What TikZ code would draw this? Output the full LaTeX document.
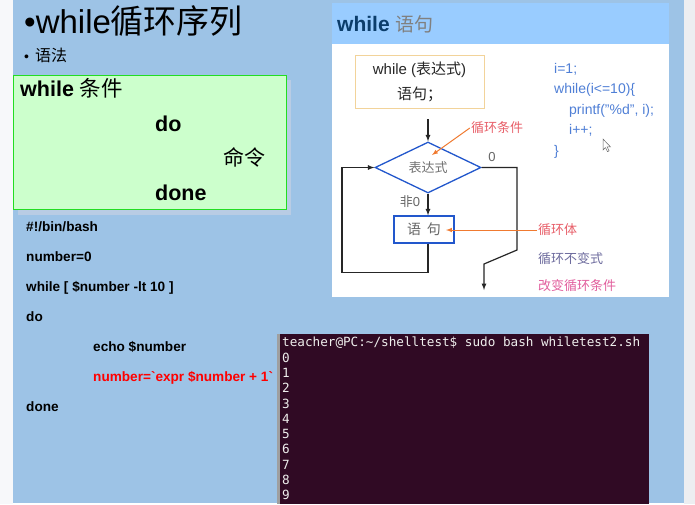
\documentclass[tikz,border=0pt]{standalone}
\usepackage{fontspec}
\setmainfont{Liberation Sans}
\setmonofont{DejaVu Sans Mono}
\newfontfamily\cjk{Noto Sans CJK SC}
\usepackage{xcolor}
\usetikzlibrary{shapes.geometric,arrows.meta,calc}
\tikzset{>=latex}

\definecolor{slideblue}{HTML}{9DC3E6}
\definecolor{pagegray}{HTML}{F7F8FA}
\definecolor{edgegray}{HTML}{EDEEF1}
\definecolor{shadowblue}{HTML}{B9CCE4}
\definecolor{boxgreen}{HTML}{22DD22}
\definecolor{boxfill}{HTML}{CCFFCC}
\definecolor{headblue}{HTML}{99CCFF}
\definecolor{headnavy}{HTML}{0B3D6B}
\definecolor{boxorange}{HTML}{F2D39A}
\definecolor{codeblue}{HTML}{4F7FD6}
\definecolor{flowblue}{HTML}{2257CC}
\definecolor{noteorange}{HTML}{F07A30}
\definecolor{labelred}{HTML}{E8606A}
\definecolor{labelpurple}{HTML}{6E6C9E}
\definecolor{labelpink}{HTML}{E2609E}
\definecolor{termbg}{HTML}{300A24}
\definecolor{termtext}{HTML}{EEEEEC}

\newcommand{\zh}[1]{{\cjk #1}}
\newcommand{\fsz}[1]{\fontsize{#1}{#1}\selectfont}

\tikzset{
	script/.style={anchor=base west, inner sep=0, font=\fsz{13.6}\bfseries},
	code/.style={anchor=base west, inner sep=0, font=\fsz{14}, text=codeblue},
	term/.style={anchor=base west, inner sep=0, font=\ttfamily\fsz{12.65}, text=termtext},
	flowline/.style={draw=black!85, line width=1.2pt},
	flowbox/.style={draw=flowblue, line width=1.3pt, inner sep=0},
	notearrow/.style={draw=noteorange, line width=1pt, ->},
	note/.style={font=\fsz{13}, inner sep=1pt}
}

\begin{document}
\begin{tikzpicture}[x=1pt,y=-1pt]
		\useasboundingbox (0,0) rectangle (695,504);
		% page and slide
		\fill[pagegray] (0,0) rectangle (13,504);
		\fill[slideblue] (13,0) rectangle (684,503);
		\fill[edgegray] (684,0) rectangle (695,504);
		
		% title
		\node[anchor=base west, inner sep=0, font=\fsz{33}] (title) at (24,33) {•while\zh{循环序列}};
		\node[anchor=base west, inner sep=0] (syntax) at (24,61) {\fsz{14}•\hspace{6pt}\fsz{16}\zh{语法}};
		
		% syntax box
		\fill[shadowblue] (18,80) rectangle (291,215);
		\node[draw=boxgreen, fill=boxfill, line width=1pt, minimum width=273pt, minimum height=134pt, anchor=north west, inner sep=0] (syntaxbox) at (13,75) {};
		\node[anchor=base west, inner sep=0, font=\fsz{21.5}] (kwwhile) at (20,96) {\bfseries while \mdseries\zh{条件}};
		\node[anchor=base west, inner sep=0, font=\fsz{21.5}\bfseries] (kwdo) at (155,131) {do};
		\node[anchor=base west, inner sep=0, font=\fsz{21}] (kwcmd) at (223,165) {\zh{命令}};
		\node[anchor=base west, inner sep=0, font=\fsz{21.5}\bfseries] (kwdone) at (155,200) {done};
		
		% script
		\foreach \n/\x/\t in {0/26/{\#!/bin/bash}, 1/26/{number=0}, 2/26/{while [ \$number -lt 10 ]}, 3/26/do, 4/93/{echo \$number}, 6/26/done}
		{
			\node[script] (line\n) at (\x,{231+30*\n}) {\t};
		}
		\node[script, text=red] (line5) at (93,381) {number=\textasciigrave expr \$number + 1\textasciigrave};
		
		% terminal
		\fill[gray!75] (277,334) rectangle (280,504);
		\fill[termbg] (280,334) rectangle (649,504);
		\node[term] (prompt) at (282,346) {teacher@PC:\textasciitilde/shelltest\$ sudo bash whiletest2.sh};
		\foreach \n in {0,...,9}
		{
			\node[term] (out\n) at (282,{362+15.33*\n}) {\n};
		}
		
		% while panel
		\fill[white] (332,3) rectangle (669,297);
		\fill[headblue] (332,3) rectangle (669,44);
		\node[anchor=base west, inner sep=0] (head) at (337,31) {\fsz{21}\bfseries\color{headnavy}while \mdseries\color{gray}\fsz{19}\zh{语句}};
		\node[draw=boxorange, line width=1pt, minimum width=129pt, minimum height=53pt, align=center, font=\fontsize{15}{25}\selectfont, text=black!85] (exprbox) at (419.5,81.5) {while (\zh{表达式})\\\zh{语句；}};
		
		\node[code] (code1) at (554,73) {i=1;};
		\node[code] (code2) at (554,93.5) {while(i<=10)\{};
		\node[code] (code3) at (569,114) {printf("\%d", i);};
		\node[code] (code4) at (569,134.5) {i++;};
		\node[code] (code5) at (554,155) {\}};
		\draw[fill=white, draw=black!60, line width=0.5pt] (603,139) -- ++(0,11) -- ++(2.5,-2.4) -- ++(2,4) -- ++(1.6,-0.8) -- ++(-2,-3.9) -- ++(3.4,0) -- cycle;
		
		% flow chart
		\coordinate (entry) at (428,119);
		\node[diamond, flowbox, minimum width=106pt, minimum height=45pt, font=\fsz{13}, text=black!55] (cond) at (428,167.5) {\zh{表达式}};
		\node[rectangle, flowbox, minimum width=60pt, minimum height=27pt, font=\fsz{14}, text=black!60] (body) at (424,229.5) {\zh{语\hspace{6pt}句}};
		\draw[flowline,->] (entry) -- (cond.north);
		\draw[flowline,->] (cond.south) -- (cond.south |- body.north);
		\draw[flowline,->] (cond.south |- body.south) -- ++(0,29) -| (342,167.5) -- (cond.west);
		\coordinate (bend1) at (517,250);
		\coordinate (bend2) at (484,264);
		\coordinate (exitpt) at (484,290);
		\draw[flowline,->] (cond.east) -| (bend1) -- (bend2) -- (exitpt);
		\node[note, text=black!60] (zero) at (492,157) {0};
		\node[note, text=black!60] (nonzero) at (410,202) {\zh{非}0};
		
		% notes
		\node[note, text=labelred] (condnote) at (497,128) {\zh{循环条件}};
		\coordinate (condtip) at (432,155);
		\draw[notearrow] (condnote.west) -- (condtip);
		\node[note, anchor=west, text=labelred] (bodynote) at (537,230) {\zh{循环体}};
		\coordinate (bodytip) at (446,230);
		\draw[notearrow] (bodynote.west) -- (bodytip);
		\node[note, anchor=west, text=labelpurple] (invnote) at (537,259) {\zh{循环不变式}};
		\node[note, anchor=west, text=labelpink] (stepnote) at (537,286) {\zh{改变循环条件}};
	\end{tikzpicture}
\end{document}
